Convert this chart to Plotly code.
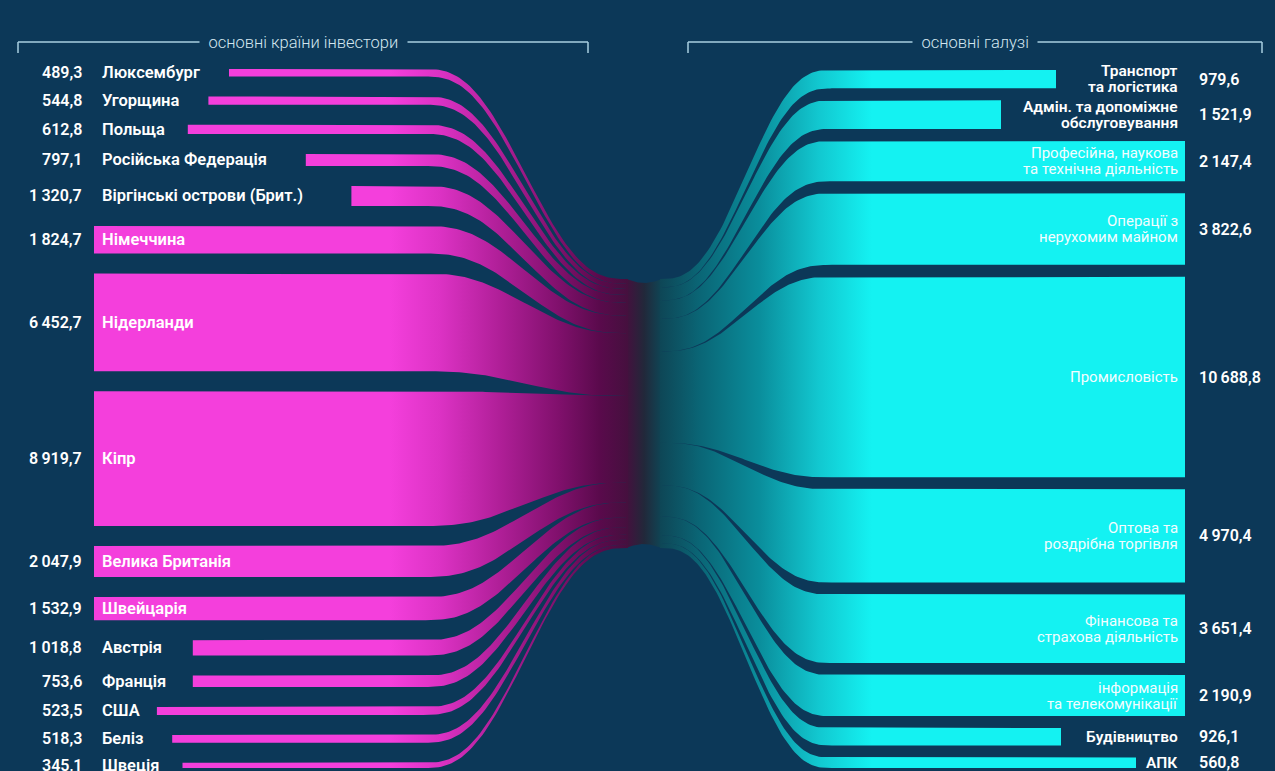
import numpy as np
import plotly.graph_objects as go

# ---------------- data ----------------
countries = ["Люксембург", "Угорщина", "Польща", "Російська Федерація",
             "Віргінські острови (Брит.)", "Німеччина", "Нідерланди", "Кіпр",
             "Велика Британія", "Швейцарія", "Австрія", "Франція", "США",
             "Беліз", "Швеція"]
country_values = [489.3, 544.8, 612.8, 797.1, 1320.7, 1824.7, 6452.7, 8919.7,
                  2047.9, 1532.9, 1018.8, 753.6, 523.5, 518.3, 345.1]

industries = ["Транспорт\nта логістика", "Адмін. та допоміжне\nобслуговування",
              "Професійна, наукова\nта технічна діяльність",
              "Операції з\nнерухомим майном", "Промисловість",
              "Оптова та\nроздрібна торгівля", "Фінансова та\nстрахова діяльність",
              "інформація\nта телекомунікації", "Будівництво", "АПК"]
industry_values = [979.6, 1521.9, 2147.4, 3822.6, 10688.8, 4970.4, 3651.4,
                   2190.9, 926.1, 560.8]

left_title = "основні країни інвестори"
right_title = "основні галузі"

# ---------------- style / layout ----------------
W, H = 1275, 771
BG = "#0c3858"
MAGENTA = "#f43fdc"
CYAN = "#14f2f2"
LINE = "#a9cfe0"
FONT = "Roboto"

L_TOP, L_BOT, L_GAP = 69, 768, 20
R_TOP, R_BOT, R_GAP = 70, 768, 12
TRUNK_TOP, TRUNK_BOT, TRUNK_DIP = 279, 548, 4
L_LABEL_X, L_VALUE_X, L_INNER_START = 100, 84, 94
L_CURVE0, L_CURVE1 = 423, 628
R_LABEL_X, R_VALUE_X, R_INNER_END = 1180, 1197, 1185
R_CURVE0, R_CURVE1 = 832, 660
LINE_STEP = 16
NARROW = set("іїІ.,() ")

L_END_COLOR, MID_COLOR, R_END_COLOR = "#45103e", "#22283a", "#0e4656"


def fmt(v):
    return f"{v:,.1f}".replace(",", "\u2009").replace(".", ",")


def text_w(s, wide, narrow=5.0):
    return sum(narrow if ch in NARROW else wide for ch in s)


def smoother(u):
    u = np.clip(u, 0, 1)
    return u ** 3 * (u * (6 * u - 15) + 10)


def stack(values, top, bottom, gap):
    k = (bottom - top - gap * (len(values) - 1)) / sum(values)
    tops, y = [], top
    for v in values:
        tops.append(y)
        y += v * k + gap
    return np.array(tops), np.array(values) * k


def band_xy(x_start, xc0, xc1, a0, b0, a1, b1, n=80):
    xs = np.concatenate([[x_start], np.linspace(xc0, xc1, n)])
    u = np.concatenate([[0.0], np.linspace(0, 1, n)])
    s = smoother(u)
    top = a0 + (a1 - a0) * s
    bot = b0 + (b1 - b0) * s
    return np.concatenate([xs, xs[::-1]]), np.concatenate([top, bot[::-1]])


fig = go.Figure()
annotations = []

# ---- central trunk (joins the two fans), slightly pinched ----
tx = np.linspace(L_CURVE1 - 2, R_CURVE1 + 2, 40)
pinch = TRUNK_DIP * np.sin(np.pi * (tx - tx[0]) / (tx[-1] - tx[0]))
fig.add_trace(go.Scatter(
    x=np.concatenate([tx, tx[::-1]]),
    y=np.concatenate([TRUNK_TOP + pinch, (TRUNK_BOT - pinch)[::-1]]),
    mode="lines", fill="toself", line=dict(width=0),
    fillgradient=dict(type="horizontal",
                      colorscale=[[0, L_END_COLOR], [0.5, MID_COLOR], [1, R_END_COLOR]],
                      start=tx[0], stop=tx[-1]),
    hoverinfo="skip", showlegend=False))

# ---- left side ----
lt, lth = stack(country_values, L_TOP, L_BOT, L_GAP)
ltt, ltth = stack(country_values, TRUNK_TOP, TRUNK_BOT, 0)
left_scale = [[0.0, MAGENTA], [0.21, "#dc32c4"], [0.46, "#b01f98"],
              [0.71, "#80106c"], [0.88, "#5a0a4c"], [1.0, L_END_COLOR]]
for name, v, t, th, tt, tth in zip(countries, country_values, lt, lth, ltt, ltth):
    inside = v > 1400
    xs0 = L_INNER_START if inside else L_LABEL_X + text_w(name, 10.3) + 26
    x, y = band_xy(xs0, L_CURVE0, L_CURVE1, t, t + th, tt, tt + tth)
    fig.add_trace(go.Scatter(
        x=x, y=y, mode="lines", fill="toself", line=dict(width=0),
        fillgradient=dict(type="horizontal", colorscale=left_scale,
                          start=390, stop=L_CURVE1),
        hoverinfo="skip", showlegend=False))
    yc = t + th / 2
    annotations.append(dict(x=L_VALUE_X, y=yc, text=fmt(v), xanchor="right",
                            font=dict(family=FONT, size=16, color="white", weight=600)))
    annotations.append(dict(x=L_LABEL_X, y=yc, text=name, xanchor="left",
                            font=dict(family=FONT, size=16.5, color="white", weight=600)))

# ---- right side ----
rt, rth = stack(industry_values, R_TOP, R_BOT, R_GAP)
rtt, rtth = stack(industry_values, TRUNK_TOP, TRUNK_BOT, 0)
right_scale = [[0.0, R_END_COLOR], [0.19, "#0a6676"], [0.47, "#0a8e9c"],
               [0.75, "#12c8d0"], [1.0, CYAN]]
for name, v, t, th, tt, tth in zip(industries, industry_values, rt, rth, rtt, rtth):
    inside = v > 2000
    lines = name.split("\n")
    xe = R_INNER_END if inside else R_LABEL_X - max(text_w(s, 10.0) for s in lines) - 14
    x, y = band_xy(xe, R_CURVE0, R_CURVE1, t, t + th, tt, tt + tth)
    fig.add_trace(go.Scatter(
        x=x, y=y, mode="lines", fill="toself", line=dict(width=0),
        fillgradient=dict(type="horizontal", colorscale=right_scale,
                          start=R_CURVE1, stop=872),
        hoverinfo="skip", showlegend=False))
    yc = t + th / 2
    for i, ln in enumerate(lines):
        yl = yc + (i - (len(lines) - 1) / 2) * LINE_STEP
        annotations.append(dict(
            x=R_LABEL_X, y=yl, text=ln, xanchor="right",
            font=dict(family=FONT, size=15 if inside else 15.5,
                      color="#f2fdff" if inside else "white",
                      weight=400 if inside else 600)))
    annotations.append(dict(x=R_VALUE_X, y=yc, text=fmt(v), xanchor="left",
                            font=dict(family=FONT, size=16, color="white", weight=600)))

# ---- header brackets ----
shapes = []
for x0, x1, title in [(18, 588, left_title), (688, 1262, right_title)]:
    shapes += [dict(type="line", x0=x0, x1=x1, y0=42, y1=42),
               dict(type="line", x0=x0, x1=x0, y0=42, y1=53),
               dict(type="line", x0=x1, x1=x1, y0=42, y1=53)]
    annotations.append(dict(x=(x0 + x1) / 2, y=42,
                            text="\u2002" + title + "\u2002", bgcolor=BG,
                            borderpad=0,
                            font=dict(family=FONT, size=16.5, color="#d3e6ef", weight=300)))
for s in shapes:
    s.update(xref="x", yref="y", line=dict(color=LINE, width=1.5), layer="below")

for a in annotations:
    a.update(xref="x", yref="y", showarrow=False, yanchor="middle")

fig.update_layout(
    width=W, height=H, margin=dict(l=0, r=0, t=0, b=0),
    paper_bgcolor=BG, plot_bgcolor=BG,
    xaxis=dict(range=[0, W], visible=False, fixedrange=True),
    yaxis=dict(range=[H, 0], visible=False, fixedrange=True),
    annotations=annotations, shapes=shapes, showlegend=False,
)

fig.write_html(
    "out.html",
    config={"displayModeBar": False},
    post_script="document.body.style.margin='0';"
                "document.body.style.background='" + BG + "';"
                "document.body.style.overflow='hidden';",
)
